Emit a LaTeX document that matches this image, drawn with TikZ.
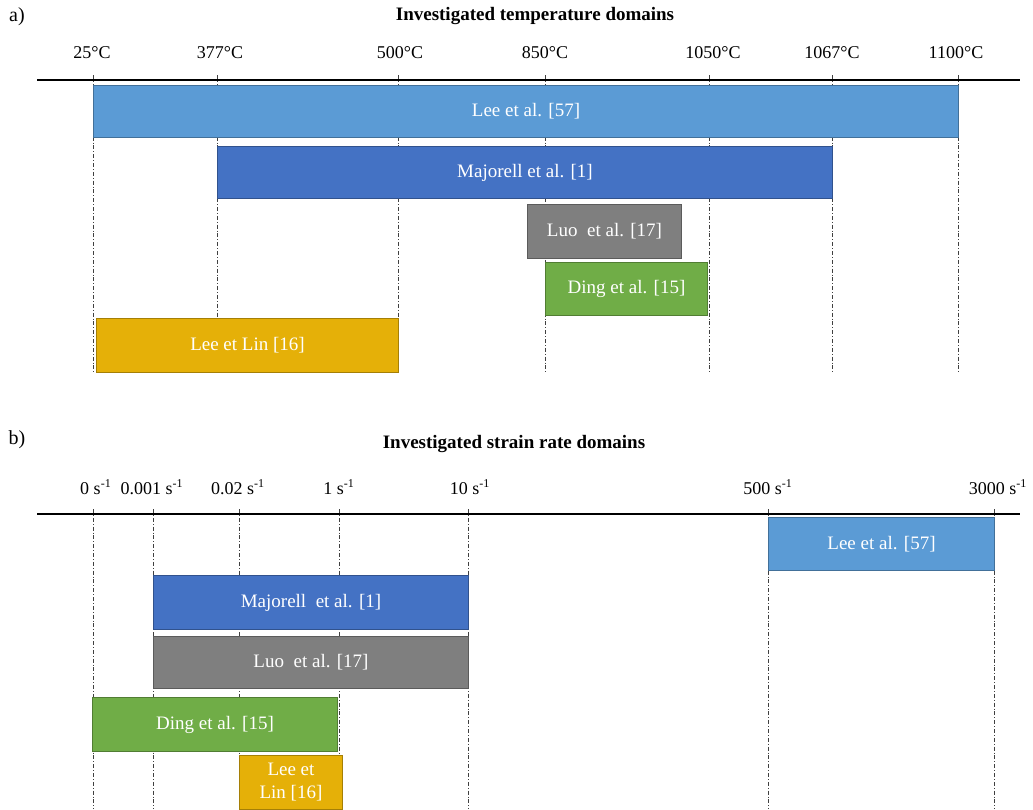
\documentclass[tikz,border=0pt]{standalone}
\usepackage{fontspec}
\setmainfont{Liberation Serif}
\usepackage{tikz}
\usetikzlibrary{calc, arrows}

\definecolor{barlight}{RGB}{91,155,213}
\definecolor{barblue}{RGB}{68,114,196}
\definecolor{bargray}{RGB}{127,127,127}
\definecolor{bargreen}{RGB}{112,173,71}
\definecolor{bargold}{RGB}{229,176,8}

\begin{document}
\begin{tikzpicture}[x=0.5pt,y=-0.5pt,inner sep=0pt,>=latex',
  dom/.style={draw=#1!72!black,fill=#1,line width=.5pt,anchor=north west,text=white,align=center,font=\fontsize{9.5}{11.5}\selectfont},
  dim/.style 2 args={minimum width=#1*.5pt,minimum height=#2*.5pt},
  guide/.style={black!75,line width=.45pt,dash pattern=on 2pt off 1pt on .4pt off 1pt},
  lab/.style={font=\fontsize{9}{11}\selectfont},
  ttl/.style={font=\bfseries\fontsize{9.5}{11}\selectfont}]
\useasboundingbox (0,0) rectangle (1033,809);

\node [lab,font=\fontsize{10}{12}\selectfont] (Pa) at (17,17) {a)};
\node [ttl] (TitleT) at (535,16) {Investigated temperature domains};
\coordinate (A1) at (37,80);
\coordinate (A2) at (1020,80);
\foreach \p/\q/\lbl [count=\i] in {93/92/25, 217/220/377, 398/400/500, 545/545/850, 709/713/1050, 832/832/1067, 958/956/1100} {
  \coordinate (T\i) at (\p,75);
  \coordinate (TB\i) at (\p,372);
  \node [lab] (TL\i) at (\q,53) {\lbl°C};
  \draw [guide] (T\i) -- (TB\i);
}
\draw [line width=.7pt] (A1) -- (A2);
\node [dom=barlight,dim={865}{52}] (LeeT) at (93,85) {Lee et al. [57]};
\node [dom=barblue,dim={615}{52}] (MajT) at (217,146) {Majorell et al. [1]};
\node [dom=bargray,dim={154}{54}] (LuoT) at (527,204) {Luo\ \ et al. [17]};
\node [dom=bargreen,dim={162}{53}] (DingT) at (545,262) {Ding et al. [15]};
\node [dom=bargold,dim={302}{54}] (LinT) at (96,318) {Lee et Lin [16]};

\node [lab,font=\fontsize{10}{12}\selectfont] (Pb) at (17,440) {b)};
\node [ttl] (TitleS) at (514,444) {Investigated strain rate domains};
\coordinate (B1) at (37,514);
\coordinate (B2) at (1020,514);
\foreach \p/\q/\lbl [count=\i] in {93/96/0, 153/152/0.001, 239/238/0.02, 339/339/1, 468/470/10, 768/768/500, 994/998/3000} {
  \coordinate (S\i) at (\p,509);
  \coordinate (SB\i) at (\p,809);
  \node [lab] (SL\i) at (\q,487) {\lbl\ s\textsuperscript{-1}};
  \draw [guide] (S\i) -- (SB\i);
}
\draw [line width=.7pt] (B1) -- (B2);
\node [dom=barlight,dim={226}{53}] (LeeS) at (768,517) {Lee et al. [57]};
\node [dom=barblue,dim={315}{54}] (MajS) at (153,575) {Majorell\ \ et al. [1]};
\node [dom=bargray,dim={315}{52}] (LuoS) at (153,636) {Luo\ \ et al. [17]};
\node [dom=bargreen,dim={245}{54}] (DingS) at (92,697) {Ding et al. [15]};
\node [dom=bargold,dim={103}{54}] (LinS) at (239,755) {Lee et\\Lin [16]};
\end{tikzpicture}
\end{document}
